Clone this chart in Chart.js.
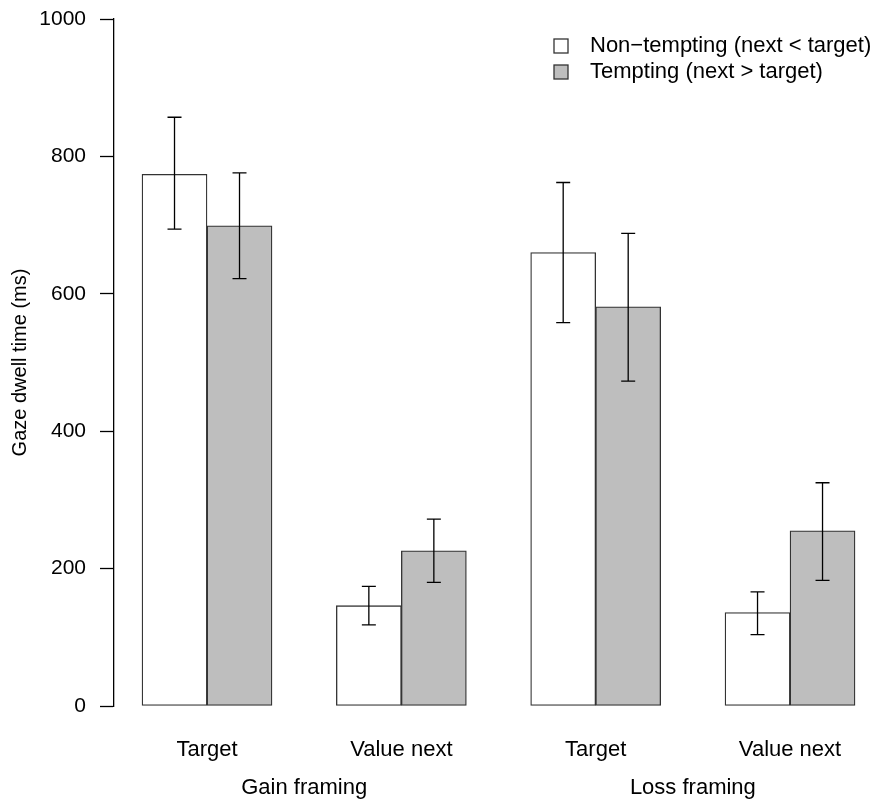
<!DOCTYPE html>
<html>
<head>
<meta charset="utf-8">
<script src="https://cdn.jsdelivr.net/npm/chart.js@4"></script>
<style>
  body { margin: 0; background: #fff; }
</style>
</head>
<body>
<canvas id="myGraph" width="874" height="799"></canvas>
<script>
// Gaze dwell time, bars with error bars, R barplot look

var categories = ["Target", "Value next", "Target", "Value next"];
var groups = ["Gain framing", "Loss framing"];
var seriesNames = ["Non\u2212tempting (next < target)", "Tempting (next > target)"];

var nonTempting = [774, 146, 660, 136];
var nonTemptingLow = [694, 118, 558, 104];
var nonTemptingHigh = [857, 174, 762, 166];

var tempting = [699, 226, 581, 255];
var temptingLow = [622, 180, 473, 183];
var temptingHigh = [776, 272, 688, 325];

var yTicks = [0, 200, 400, 600, 800, 1000];

var font = "'Liberation Sans', Arial, sans-serif";
var graph = document.getElementById("myGraph").getContext("2d");

function toPoints(values) {
  return values.map((v, i) => ({ x: i, y: v }));
}

var errorBars = {
  id: "errorBars",
  afterDatasetsDraw: function(chart) {
    var ctx = chart.ctx;
    var y = chart.scales.y;
    var lows = [nonTemptingLow, temptingLow];
    var highs = [nonTemptingHigh, temptingHigh];
    ctx.save();
    ctx.strokeStyle = "#000";
    ctx.lineWidth = 1.3;
    for (var d = 0; d < 2; d++) {
      var meta = chart.getDatasetMeta(d);
      meta.data.forEach(function(bar, i) {
        var top = y.getPixelForValue(highs[d][i]);
        var bottom = y.getPixelForValue(lows[d][i]);
        ctx.beginPath();
        ctx.moveTo(bar.x, top);
        ctx.lineTo(bar.x, bottom);
        ctx.moveTo(bar.x - 7, top);
        ctx.lineTo(bar.x + 7, top);
        ctx.moveTo(bar.x - 7, bottom);
        ctx.lineTo(bar.x + 7, bottom);
        ctx.stroke();
      });
    }
    ctx.restore();
  }
};

var boxLegend = {
  id: "boxLegend",
  afterDraw: function(chart) {
    var ctx = chart.ctx;
    ctx.save();
    ctx.font = "22px " + font;
    ctx.textBaseline = "middle";
    ctx.lineWidth = 1.3;
    chart.data.datasets.forEach(function(ds, i) {
      var cy = 46 + i * 26;
      ctx.fillStyle = ds.backgroundColor;
      ctx.fillRect(554, cy - 7, 14, 14);
      ctx.strokeStyle = "#333";
      ctx.strokeRect(554, cy - 7, 14, 14);
      ctx.fillStyle = "#000";
      ctx.fillText(ds.label, 590, cy);
    });
    ctx.restore();
  }
};

new Chart(graph, {
  type: "bar",
  data: {
    datasets: [
      {
        label: seriesNames[0],
        data: toPoints(nonTempting),
        backgroundColor: "#ffffff",
        borderColor: "#333333",
        borderWidth: 1.3,
        borderSkipped: false,
        barThickness: 65
      },
      {
        label: seriesNames[1],
        data: toPoints(tempting),
        backgroundColor: "#bebebe",
        borderColor: "#333333",
        borderWidth: 1.3,
        borderSkipped: false,
        barThickness: 65
      }
    ]
  },
  options: {
    responsive: false,
    devicePixelRatio: 1,
    animation: false,
    layout: { padding: { top: 19, right: 4, left: 0, bottom: 0 } },
    plugins: {
      legend: { display: false },
      tooltip: { enabled: false }
    },
    scales: {
      x: {
        type: "linear",
        position: "bottom",
        weight: 0,
        offset: false,
        min: -0.4786,
        max: 3.4115,
        grid: { display: false, drawTicks: false },
        border: { display: false },
        afterBuildTicks: function(scale) {
          scale.ticks = categories.map((c, i) => ({ value: i }));
        },
        afterFit: function(scale) { scale.height = 60; },
        ticks: {
          autoSkip: false,
          maxRotation: 0,
          padding: 31,
          color: "#000",
          font: { family: font, size: 22 },
          callback: function(value) { return categories[value]; }
        }
      },
      x2: {
        type: "linear",
        position: "bottom",
        weight: 1,
        offset: false,
        min: -0.4786,
        max: 3.4115,
        grid: { display: false, drawTicks: false },
        border: { display: false },
        afterBuildTicks: function(scale) {
          scale.ticks = groups.map((g, i) => ({ value: i * 2 + 0.5 }));
        },
        afterFit: function(scale) { scale.height = 33; },
        ticks: {
          autoSkip: false,
          maxRotation: 0,
          padding: 9,
          color: "#000",
          font: { family: font, size: 22 },
          callback: function(value) { return groups[Math.round((value - 0.5) / 2)]; }
        }
      },
      y: {
        min: 0,
        max: 1000,
        afterBuildTicks: function(scale) {
          scale.ticks = yTicks.map(v => ({ value: v }));
        },
        afterFit: function(scale) {
          scale.width = 114;
          scale.paddingTop = 0;
          scale.paddingBottom = 0;
        },
        grid: {
          drawOnChartArea: false,
          tickLength: 14,
          tickColor: "#000",
          tickWidth: 1.3
        },
        border: { color: "#000", width: 1.3 },
        ticks: {
          padding: 14,
          color: "#000",
          font: { family: font, size: 21 },
          callback: function(value) { return String(value); }
        },
        title: {
          display: true,
          text: "Gaze dwell time (ms)",
          color: "#000",
          padding: { top: 8, bottom: 0 },
          font: { family: font, size: 20 }
        }
      }
    }
  },
  plugins: [errorBars, boxLegend]
});
</script>
</body>
</html>
